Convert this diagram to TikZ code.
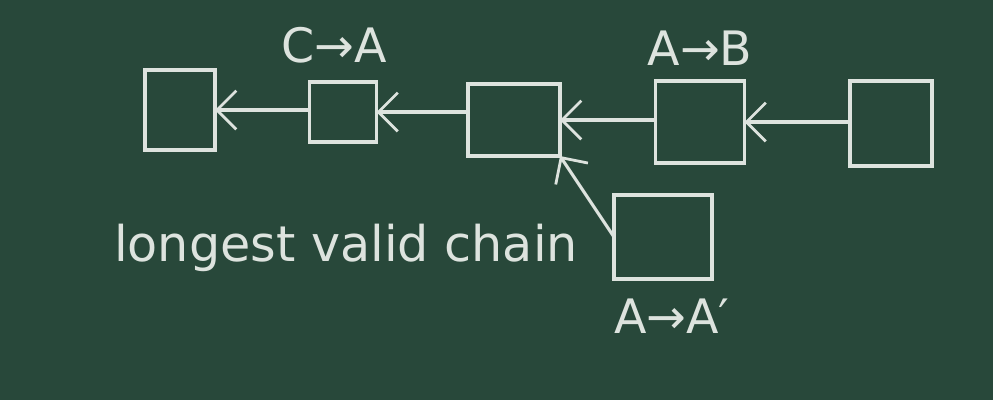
\documentclass[tikz,border=0pt]{standalone}
\usepackage{fontspec}
\setmainfont{DejaVu Sans}
\usetikzlibrary{arrows.meta,positioning}
\definecolor{Board}{HTML}{28483A}
\definecolor{Chalk}{HTML}{DDE3DE}

\begin{document}
\begin{tikzpicture}[
    block/.style 2 args={
      draw=Chalk,
      line width=1pt,
      minimum width=#1,
      minimum height=#2,
      inner sep=0pt,
      outer sep=0pt
    },
    arr/.style={
      -{Straight Barb[length=5.5pt,width=11pt,line width=0.8pt]},
      line width=0.9pt,
      color=Chalk
    },
    chalk/.style={
      text=Chalk,
      font=\fontsize{13.5}{16}\selectfont
    }
  ]

  \fill[Board] (0,0) rectangle (9.93,4);
  \useasboundingbox (0,0) rectangle (9.93,4);

  \node[block={0.70cm}{0.80cm}] (b1) at (1.80,2.90) {};
  \node[block={0.67cm}{0.60cm}] (b2) at (3.43,2.88) {};
  \node[block={0.92cm}{0.72cm}] (b3) at (5.14,2.80) {};
  \node[block={0.89cm}{0.82cm}] (b4) at (7.00,2.78) {};
  \node[block={0.82cm}{0.85cm}] (b5) at (8.91,2.765) {};
  \node[block={0.98cm}{0.84cm}] (b6) at (6.63,1.63) {};

  \foreach \a/\b in {b2/b1, b3/b2, b4/b3, b5/b4}
    \draw[arr] (\a.west |- \b.east) -- (\b.east);
  \draw[arr] (b6.west) -- (b3.south east);

  % Chalk labels
  \node[chalk] (l1) at (3.34,3.55) {C→A};
  \node[chalk] (l2) at (7.00,3.52) {A→B};
  \node[chalk] (l3) at (6.72,0.84) {A→A′};
  \node[chalk, font=\fontsize{14}{16}\selectfont] (l4) at (3.46,1.52) {longest valid chain};

\end{tikzpicture}
\end{document}
